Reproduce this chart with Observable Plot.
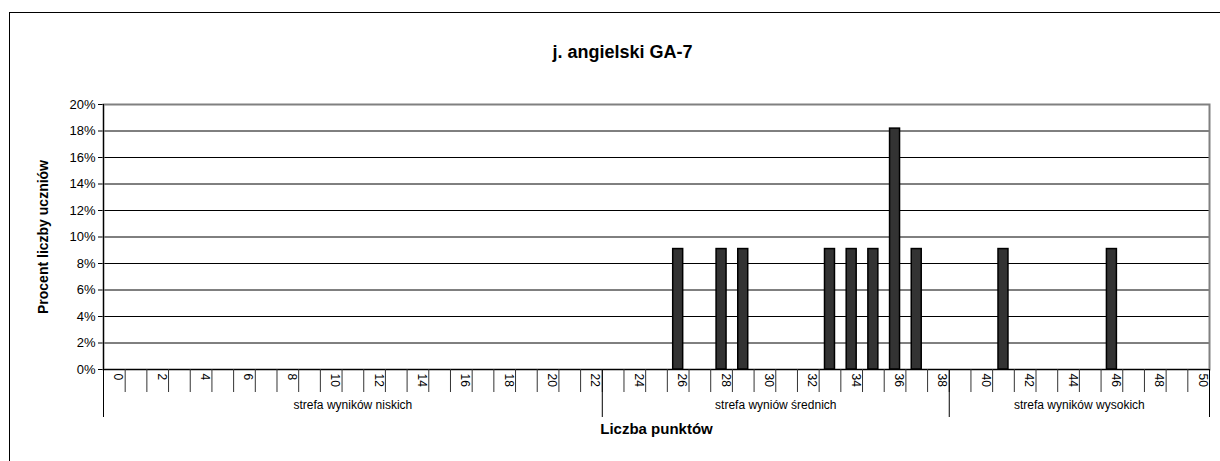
<!DOCTYPE html>
<html>
<head>
<meta charset="utf-8">
<script src="https://cdn.jsdelivr.net/npm/d3@7"></script>
<script src="https://cdn.jsdelivr.net/npm/@observablehq/plot@0.6"></script>
<style>
  html, body { margin: 0; padding: 0; background: #fff; }
  #wrap { position: relative; width: 1220px; height: 461px; overflow: hidden; }
  #frame { position: absolute; left: 9px; top: 12px; width: 1215px; height: 470px; border: 1px solid #000; box-sizing: border-box; }
  #chart { position: absolute; left: 0; top: 0; }
</style>
</head>
<body>
<div id="wrap"><div id="frame"></div><div id="chart"></div></div>
<script>
const title = "j. angielski GA-7";
const xTitle = "Liczba punktów";
const yTitle = "Procent liczby uczniów";
const points = [26, 28, 29, 33, 34, 35, 36, 37, 41, 46];
const percents = [9.09, 9.09, 9.09, 9.09, 9.09, 9.09, 18.18, 9.09, 9.09, 9.09];
const categories = d3.range(0, 51);
const tickLabels = d3.range(0, 51, 2);
const yTicks = [0, 0.02, 0.04, 0.06, 0.08, 0.10, 0.12, 0.14, 0.16, 0.18, 0.20];
const zones = ["strefa wyników niskich", "strefa wyniów średnich", "strefa wyników wysokich"];
const zoneCenters = [11, 30.5, 44.5];
const zoneBounds = [-0.5, 22.5, 38.5, 50.5];

const bars = points.map((p, i) => ({p, v: percents[i] / 100}));
const boundaries = categories.slice(0, -1).map(c => c + 0.5);

const chart = Plot.plot({
  width: 1220,
  height: 461,
  marginLeft: 103,
  marginRight: 11,
  marginTop: 104,
  marginBottom: 92,
  style: {fontFamily: "'Liberation Sans', Arial, sans-serif", fontSize: "13px", background: "transparent", color: "#000"},
  x: {domain: [-0.5, 50.5], axis: null},
  y: {domain: [0, 0.2], ticks: yTicks, tickFormat: d3.format(".0%"), tickSize: 5, tickPadding: 3, label: null},
  marks: [
    Plot.ruleY(yTicks.slice(1), {stroke: "#000", strokeWidth: 1}),
    Plot.frame({stroke: "#808080", strokeWidth: 2}),
    Plot.rectY(bars, {x1: d => d.p - 0.23, x2: d => d.p + 0.23, y: "v", fill: "#333333", stroke: "#000", strokeWidth: 1.5}),
    Plot.ruleY([0], {stroke: "#000"}),
    Plot.ruleX([-0.5], {stroke: "#000"}),
    Plot.ruleX(boundaries, {y1: 0, y2: 0, insetBottom: -23, stroke: "#333"}),
    Plot.ruleX(zoneBounds, {y1: 0, y2: 0, insetBottom: -48, stroke: "#000"}),
    Plot.text(tickLabels, {x: d => d, text: d => String(d), frameAnchor: "bottom", dy: 4, rotate: 90, textAnchor: "start", fontSize: 12}),
    Plot.text(zones, {x: (d, i) => zoneCenters[i], text: d => d, frameAnchor: "bottom", dy: 39, fontSize: 12}),
    Plot.text([xTitle], {frameAnchor: "bottom", dy: 64, fontWeight: "bold", fontSize: 15}),
    Plot.text([yTitle], {frameAnchor: "left", dx: -60, rotate: -90, textAnchor: "middle", fontWeight: "bold", fontSize: 14}),
    Plot.text([title], {frameAnchor: "top", dy: -59, dx: -34, textAnchor: "middle", fontWeight: "bold", fontSize: 18})
  ]
});
document.getElementById("chart").appendChild(chart);
</script>
</body>
</html>
